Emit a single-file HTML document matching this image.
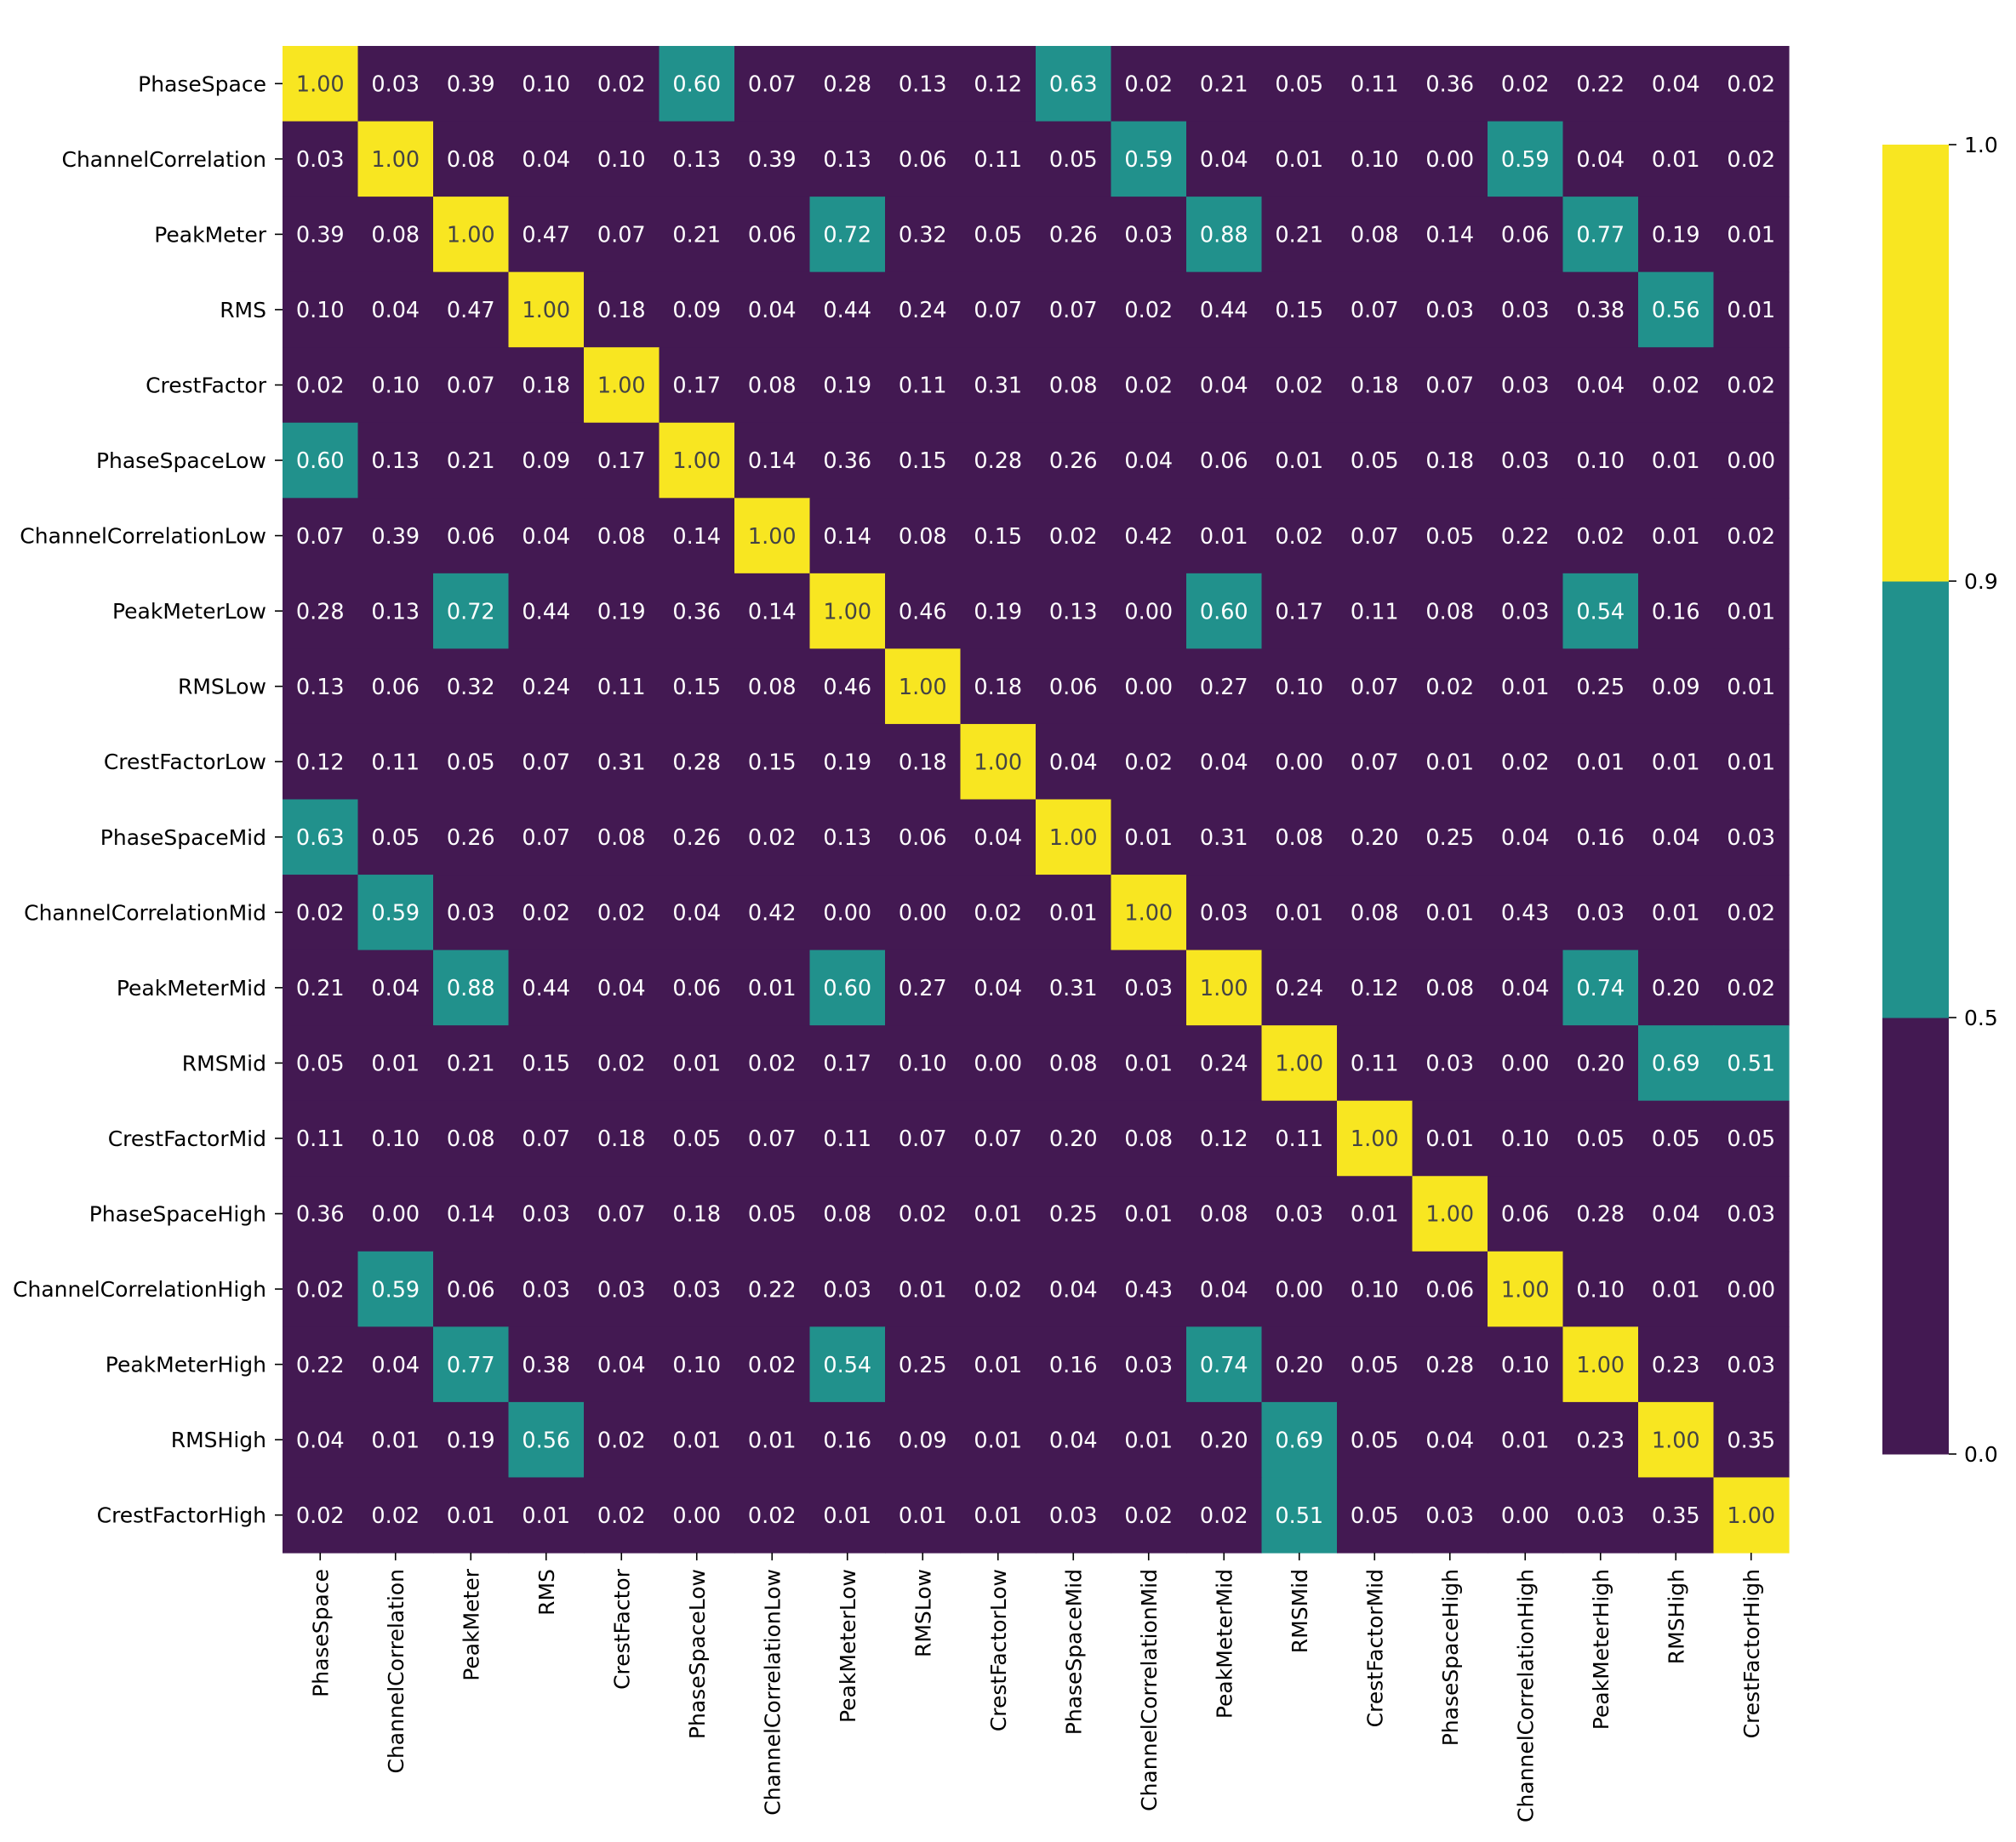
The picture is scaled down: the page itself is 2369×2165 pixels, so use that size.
<!DOCTYPE html>
<html><head><meta charset="utf-8"><style>
html,body{margin:0;padding:0;background:#fff;}
svg text{font-family:"DejaVu Sans","Liberation Sans",sans-serif;}
</style></head><body>
<svg id="chart" width="2369" height="2160" viewBox="0 0 2369 2160" xmlns="http://www.w3.org/2000/svg">
<g id="cells"></g>
<g id="ylab"></g>
<g id="xlab"></g>
<g id="cbar"></g>
</svg>
<script>
const labels=["PhaseSpace","ChannelCorrelation","PeakMeter","RMS","CrestFactor","PhaseSpaceLow","ChannelCorrelationLow","PeakMeterLow","RMSLow","CrestFactorLow","PhaseSpaceMid","ChannelCorrelationMid","PeakMeterMid","RMSMid","CrestFactorMid","PhaseSpaceHigh","ChannelCorrelationHigh","PeakMeterHigh","RMSHigh","CrestFactorHigh"];
const matrix=[
[1.00,0.03,0.39,0.10,0.02,0.60,0.07,0.28,0.13,0.12,0.63,0.02,0.21,0.05,0.11,0.36,0.02,0.22,0.04,0.02],
[0.03,1.00,0.08,0.04,0.10,0.13,0.39,0.13,0.06,0.11,0.05,0.59,0.04,0.01,0.10,0.00,0.59,0.04,0.01,0.02],
[0.39,0.08,1.00,0.47,0.07,0.21,0.06,0.72,0.32,0.05,0.26,0.03,0.88,0.21,0.08,0.14,0.06,0.77,0.19,0.01],
[0.10,0.04,0.47,1.00,0.18,0.09,0.04,0.44,0.24,0.07,0.07,0.02,0.44,0.15,0.07,0.03,0.03,0.38,0.56,0.01],
[0.02,0.10,0.07,0.18,1.00,0.17,0.08,0.19,0.11,0.31,0.08,0.02,0.04,0.02,0.18,0.07,0.03,0.04,0.02,0.02],
[0.60,0.13,0.21,0.09,0.17,1.00,0.14,0.36,0.15,0.28,0.26,0.04,0.06,0.01,0.05,0.18,0.03,0.10,0.01,0.00],
[0.07,0.39,0.06,0.04,0.08,0.14,1.00,0.14,0.08,0.15,0.02,0.42,0.01,0.02,0.07,0.05,0.22,0.02,0.01,0.02],
[0.28,0.13,0.72,0.44,0.19,0.36,0.14,1.00,0.46,0.19,0.13,0.00,0.60,0.17,0.11,0.08,0.03,0.54,0.16,0.01],
[0.13,0.06,0.32,0.24,0.11,0.15,0.08,0.46,1.00,0.18,0.06,0.00,0.27,0.10,0.07,0.02,0.01,0.25,0.09,0.01],
[0.12,0.11,0.05,0.07,0.31,0.28,0.15,0.19,0.18,1.00,0.04,0.02,0.04,0.00,0.07,0.01,0.02,0.01,0.01,0.01],
[0.63,0.05,0.26,0.07,0.08,0.26,0.02,0.13,0.06,0.04,1.00,0.01,0.31,0.08,0.20,0.25,0.04,0.16,0.04,0.03],
[0.02,0.59,0.03,0.02,0.02,0.04,0.42,0.00,0.00,0.02,0.01,1.00,0.03,0.01,0.08,0.01,0.43,0.03,0.01,0.02],
[0.21,0.04,0.88,0.44,0.04,0.06,0.01,0.60,0.27,0.04,0.31,0.03,1.00,0.24,0.12,0.08,0.04,0.74,0.20,0.02],
[0.05,0.01,0.21,0.15,0.02,0.01,0.02,0.17,0.10,0.00,0.08,0.01,0.24,1.00,0.11,0.03,0.00,0.20,0.69,0.51],
[0.11,0.10,0.08,0.07,0.18,0.05,0.07,0.11,0.07,0.07,0.20,0.08,0.12,0.11,1.00,0.01,0.10,0.05,0.05,0.05],
[0.36,0.00,0.14,0.03,0.07,0.18,0.05,0.08,0.02,0.01,0.25,0.01,0.08,0.03,0.01,1.00,0.06,0.28,0.04,0.03],
[0.02,0.59,0.06,0.03,0.03,0.03,0.22,0.03,0.01,0.02,0.04,0.43,0.04,0.00,0.10,0.06,1.00,0.10,0.01,0.00],
[0.22,0.04,0.77,0.38,0.04,0.10,0.02,0.54,0.25,0.01,0.16,0.03,0.74,0.20,0.05,0.28,0.10,1.00,0.23,0.03],
[0.04,0.01,0.19,0.56,0.02,0.01,0.01,0.16,0.09,0.01,0.04,0.01,0.20,0.69,0.05,0.04,0.01,0.23,1.00,0.35],
[0.02,0.02,0.01,0.01,0.02,0.00,0.02,0.01,0.01,0.01,0.03,0.02,0.02,0.51,0.05,0.03,0.00,0.03,0.35,1.00]];
const bounds=[0,0.5,0.9,1.0];
const boundLabels=["0.0","0.5","0.9","1.0"];
const colors=["#431952","#21918c","#f8e621"];

const NS="http://www.w3.org/2000/svg";
const L=332,T=54,W=1770,H=1771,n=labels.length,cw=W/n,ch=H/n;
const FS=25.5, LFS=25;
function mk(tag,attrs,parent){const e=document.createElementNS(NS,tag);for(const k in attrs)e.setAttribute(k,attrs[k]);parent.appendChild(e);return e;}
function xPos(j){return L+j*cw;}
function yPos(i){return T+i*ch;}
function bin(v){for(let k=bounds.length-2;k>=0;k--){if(v>=bounds[k])return k;}return 0;}
const cells=document.getElementById('cells');
matrix.forEach((row,i)=>row.forEach((v,j)=>{
  const k=bin(v);
  const r=mk('rect',{x:xPos(j),y:yPos(i),width:cw+0.6,height:ch+0.6,fill:colors[k]},cells);
  
  
  const t=mk('text',{x:xPos(j)+cw/2,y:yPos(i)+ch/2+FS*0.36,'text-anchor':'middle','font-size':FS,fill:k===2?'#444444':'#ffffff'},cells);
  t.textContent=v.toFixed(2);
  
  
}));
const yl=document.getElementById('ylab'),xl=document.getElementById('xlab');
labels.forEach((lab,i)=>{
  const cy=yPos(i)+ch/2;
  mk('line',{x1:L-9,x2:L,y1:cy,y2:cy,stroke:'#000','stroke-width':1.6},yl);
  const t=mk('text',{x:L-19,y:cy+LFS*0.36,'text-anchor':'end','font-size':LFS,fill:'#000'},yl);
  t.textContent=lab;
  
  
  const cx=xPos(i)+cw/2;
  mk('line',{x1:cx,x2:cx,y1:T+H,y2:T+H+9,stroke:'#000','stroke-width':1.6},xl);
  const tx=mk('text',{x:0,y:0,'text-anchor':'end','font-size':LFS,fill:'#000',transform:`translate(${cx+LFS*0.36},${T+H+19}) rotate(-90)`},xl);
  tx.textContent=lab;
  
  
});
const cb=document.getElementById('cbar');
const CL=2212,CW=78,CT=170,CB=1709,seg=(CB-CT)/(bounds.length-1);
function cbY(k){return CB-k*seg;}
colors.forEach((c,k)=>{
  const r=mk('rect',{x:CL,y:cbY(k+1),width:CW,height:seg+0.5,fill:c},cb);
  
  
});
boundLabels.forEach((b,k)=>{
  const y=cbY(k);
  mk('line',{x1:CL+CW,x2:CL+CW+9,y1:y,y2:y,stroke:'#000','stroke-width':1.6},cb);
  const t=mk('text',{x:CL+CW+18,y:y+LFS*0.36,'font-size':LFS,fill:'#000'},cb);
  t.textContent=b;
  
  
});
</script>
</body></html>
